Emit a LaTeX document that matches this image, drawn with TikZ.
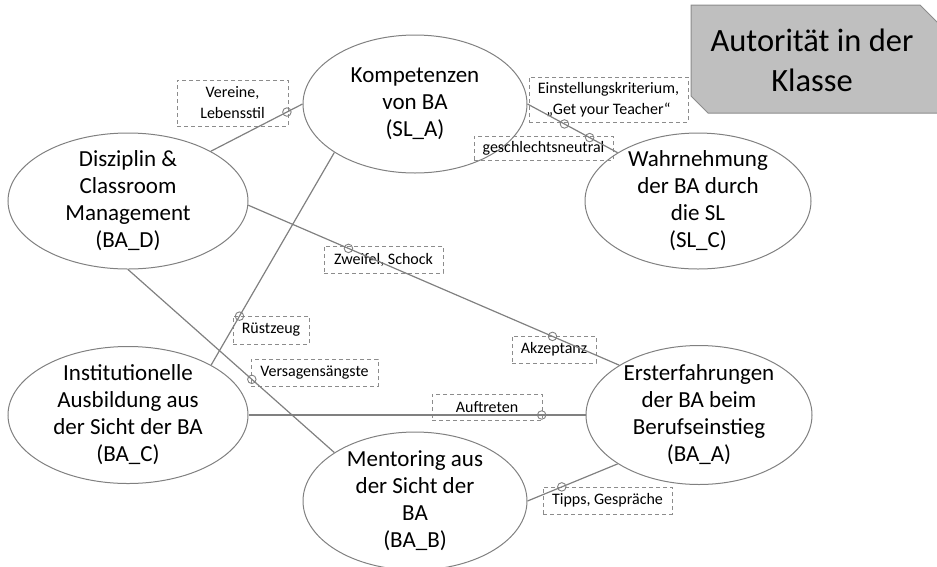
\documentclass[tikz,border=0pt]{standalone}
\usepackage{fontspec}
\setmainfont{Carlito}
\usetikzlibrary{shapes.geometric}
\definecolor{linegray}{RGB}{128,128,128}
\definecolor{boxgray}{RGB}{140,140,140}
\definecolor{titlefill}{RGB}{191,191,191}

\begin{document}
\begin{tikzpicture}[x=1pt,y=-1pt,
  topic/.style={ellipse,draw=linegray,line width=1pt,inner sep=-14pt,align=center,font=\fontsize{23}{27}\selectfont},
  tag/.style={draw=boxgray,dash pattern=on 4pt off 3pt,line width=1pt,inner sep=0pt,align=center,font=\fontsize{16}{21}\selectfont},
  link/.style={draw=linegray,line width=1.2pt},
  knot/.style={circle,draw=linegray,line width=.9pt,minimum size=8.5pt,inner sep=0pt}
]
  \useasboundingbox (0,0) rectangle (937,566);
  \clip (0,0) rectangle (937,566);

  % title box
  \draw[draw=boxgray,fill=titlefill,line width=1pt]
    (691,5) -- (920,5) -- (945,30) -- (945,113) -- (708,113) -- (691,96) -- cycle;
  \node[font=\fontsize{32.5}{40}\selectfont,align=center] (title) at (812,60) {Autorität in der\\Klasse};

  % categories
  \node[topic,minimum width=224,minimum height=138] (sla) at (415,104) {Kompetenzen\\von BA\\(SL\_A)};
  \node[topic,minimum width=240,minimum height=136] (bad) at (128,201) {Disziplin \&\\Classroom\\Management\\(BA\_D)};
  \node[topic,minimum width=226,minimum height=136] (slc) at (698,201) {Wahrnehmung\\der BA durch\\die SL\\(SL\_C)};
  \node[topic,minimum width=240,minimum height=137] (bac) at (128,415) {Institutionelle\\Ausbildung aus\\der Sicht der BA\\(BA\_C)};
  \node[topic,minimum width=226,minimum height=139] (baa) at (699,415) {Ersterfahrungen\\der BA beim\\Berufseinstieg\\(BA\_A)};
  \node[topic,minimum width=224,minimum height=138] (bab) at (415,501) {Mentoring aus\\der Sicht der\\BA\\(BA\_B)};

  % codes
  \node[tag,minimum width=111,minimum height=46] (tver) at (232.5,103) {Vereine,\\Lebensstil};
  \node[tag,minimum width=159,minimum height=45] (tein) at (608.5,99.5) {Einstellungskriterium,\\„Get your Teacher“};
  \node[tag,minimum width=139,minimum height=24] (tges) at (543.5,148) {geschlechtsneutral};
  \node[tag,minimum width=119,minimum height=27] (tzwe) at (383.5,259.5) {Zweifel, Schock};
  \node[tag,minimum width=84,minimum height=27] (takz) at (554,349.5) {Akzeptanz};
  \node[tag,minimum width=76,minimum height=28] (true) at (271,330) {Rüstzeug};
  \node[tag,minimum width=127,minimum height=27] (tvers) at (314.5,372.5) {Versagensängste};
  \node[tag,minimum width=110,minimum height=26] (tauf) at (487,407) {Auftreten};
  \node[tag,minimum width=129,minimum height=27] (ttip) at (607.5,500.5) {Tipps, Gespräche};

  % relations
  \draw[link] (bad.31) -- (sla.180) node[knot,pos=.83] (k1) {};
  \draw[link] (sla.0) -- (slc.149) node[knot,pos=.41] (k2) {} node[knot,pos=.69] (k3) {};
  \draw[link] (bad.-2) -- (baa.148) node[knot,pos=.27] (k4) {} node[knot,pos=.82] (k5) {};
  \draw[link] (sla.211) -- (bac.31) node[knot,pos=.77] (k6) {};
  \draw[link] (bad.270) -- (bab.149) node[knot,pos=.60] (k7) {};
  \draw[link] (bac.0) -- (baa.180) node[knot,pos=.87] (k8) {};
  \draw[link] (bab.0) -- (baa.211) node[knot,pos=.38] (k9) {};
\end{tikzpicture}
\end{document}
